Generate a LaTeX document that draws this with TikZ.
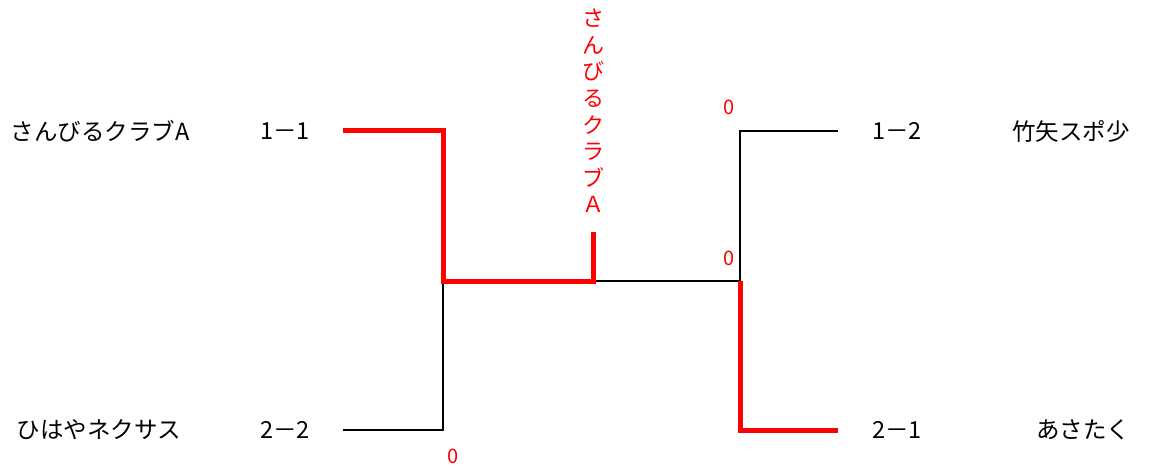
\documentclass[tikz,border=0pt]{standalone}
\usepackage{fontspec}
\setmainfont{Noto Sans CJK JP}
\newfontfamily\jfont{Noto Sans CJK JP}
\begin{document}
\begin{tikzpicture}[x=1pt,y=-1pt,
  lbl/.style={font=\jfont\fontsize{23.5}{26}\selectfont, inner sep=0pt, anchor=center},
  score/.style={font=\jfont\fontsize{20}{22}\selectfont, text=red, inner sep=0pt},
  win/.style={draw=red, line width=5pt},
  lose/.style={draw=black, line width=1.8pt}]
\useasboundingbox (0,0) rectangle (1153,468);
% team names and slots
\node[lbl] (t1) at (100,131) {さんびるクラブA};
\node[lbl] (s1) at (285,131) {1－1};
\node[lbl] (t2) at (99,430) {ひはやネクサス};
\node[lbl] (s2) at (285,430) {2－2};
\node[lbl] (s3) at (897,131) {1－2};
\node[lbl] (t3) at (1071,131) {竹矢スポ少};
\node[lbl] (s4) at (897,430) {2－1};
\node[lbl] (t4) at (1083,430) {あさたく};
% bracket coordinates
\coordinate (a1) at (343,131);
\coordinate (a2) at (443,131);
\coordinate (a3) at (443,281);
\coordinate (b1) at (343,430);
\coordinate (b2) at (443,430);
\coordinate (c) at (593,281);
\coordinate (ct) at (593,232);
\coordinate (d1) at (838,131);
\coordinate (d2) at (740,131);
\coordinate (d3) at (740,281);
\coordinate (e1) at (838,430);
\coordinate (e2) at (740,430);
% losing lines
\draw[lose] (b1) -- (b2) -- (a3);
\draw[lose] (c) -- (d3);
\draw[lose] (d1) -- (d2) -- (d3);
% winning lines
\draw[win] (a1) -- (a2) -- (a3) -- (c) -- (ct);
\draw[win] (d3) -- (e2) -- (e1);
% scores
\node[score] (z1) at (729,107) {0};
\node[score] (z2) at (729,258) {0};
\node[score] (z3) at (453,456) {0};
% champion
\node[font=\jfont\fontsize{22}{26.6}\selectfont, text=red, align=center, inner sep=0pt, anchor=south] (champ) at (593,213)
  {さ\\ん\\び\\る\\ク\\ラ\\ブ\\Ａ};
\end{tikzpicture}
\end{document}
